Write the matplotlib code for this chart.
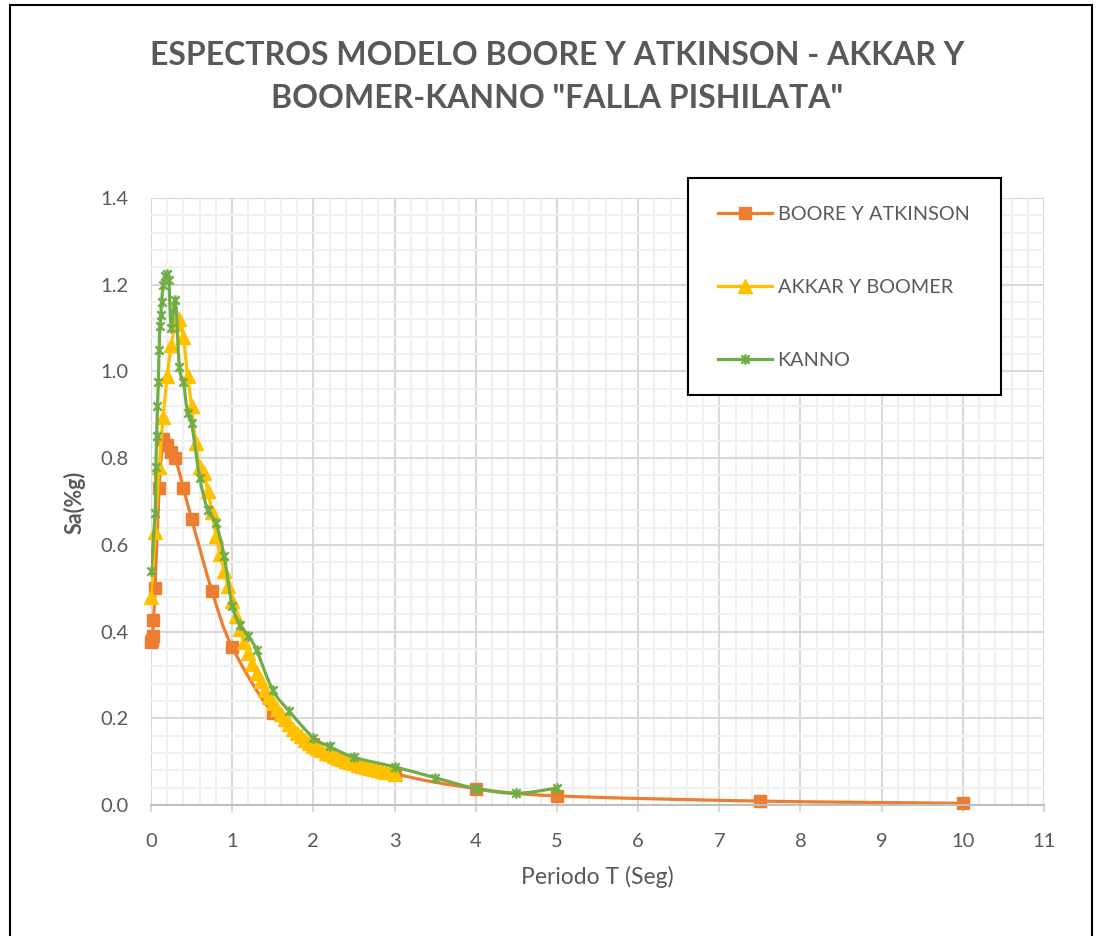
import numpy as np
import matplotlib
matplotlib.use("Agg")
import matplotlib.pyplot as plt
from matplotlib.path import Path
from matplotlib.patches import PathPatch, Rectangle
from matplotlib.lines import Line2D

# ---------------- data ----------------
ba_T = [0.0, 0.01, 0.02, 0.03, 0.05, 0.1, 0.15, 0.2, 0.25, 0.3, 0.4, 0.5, 0.75,
        1.0, 1.5, 2.0, 3.0, 4.0, 5.0, 7.5, 10.0]
ba_Sa = [0.376, 0.38, 0.39, 0.427, 0.50, 0.73, 0.845, 0.83, 0.815, 0.80, 0.73, 0.66,
         0.494, 0.364, 0.212, 0.14, 0.073, 0.038, 0.021, 0.009, 0.004]

ak_T = [0.0, 0.05, 0.1, 0.15, 0.2, 0.25, 0.3, 0.35, 0.4, 0.45, 0.5, 0.55, 0.6, 0.65,
        0.7, 0.75, 0.8, 0.85, 0.9, 0.95, 1.0, 1.05, 1.1, 1.15, 1.2, 1.25, 1.3, 1.35,
        1.4, 1.45, 1.5, 1.55, 1.6, 1.65, 1.7, 1.75, 1.8, 1.85, 1.9, 1.95, 2.0, 2.05,
        2.1, 2.15, 2.2, 2.25, 2.3, 2.35, 2.4, 2.45, 2.5, 2.55, 2.6, 2.65, 2.7, 2.75,
        2.8, 2.85, 2.9, 2.95, 3.0]
ak_Sa = [0.48, 0.63, 0.78, 0.895, 0.99, 1.06, 1.11, 1.12, 1.08, 0.99, 0.92, 0.835,
         0.78, 0.765, 0.725, 0.675, 0.62, 0.58, 0.54, 0.505, 0.47, 0.435, 0.405,
         0.375, 0.35, 0.325, 0.305, 0.285, 0.265, 0.25, 0.235, 0.222, 0.21, 0.198,
         0.186, 0.176, 0.167, 0.158, 0.15, 0.143, 0.137, 0.131, 0.126, 0.121, 0.117,
         0.113, 0.109, 0.105, 0.102, 0.099, 0.096, 0.093, 0.09, 0.088, 0.085, 0.083,
         0.081, 0.079, 0.077, 0.075, 0.072]

ka_T = [0.0, 0.05, 0.06, 0.07, 0.08, 0.09, 0.10, 0.11, 0.12, 0.13, 0.15, 0.17, 0.20,
        0.22, 0.25, 0.30, 0.35, 0.40, 0.45, 0.50, 0.60, 0.70, 0.80, 0.90, 1.00, 1.10,
        1.20, 1.30, 1.50, 1.70, 2.00, 2.20, 2.50, 3.00, 3.50, 4.00, 4.50, 5.00]
ka_Sa = [0.54, 0.673, 0.78, 0.85, 0.92, 0.975, 1.05, 1.105, 1.13, 1.16, 1.20, 1.22,
         1.225, 1.21, 1.10, 1.165, 1.01, 0.975, 0.905, 0.88, 0.755, 0.68, 0.65,
         0.575, 0.46, 0.415, 0.39, 0.357, 0.265, 0.217, 0.155, 0.135, 0.11, 0.088,
         0.063, 0.038, 0.027, 0.039]

labels = ["BOORE Y ATKINSON", "AKKAR Y BOOMER", "KANNO"]
colors = ["#ED7D31", "#FFC000", "#70AD47"]
x_ticks = list(range(0, 12))
y_ticks = [0.0, 0.2, 0.4, 0.6, 0.8, 1.0, 1.2, 1.4]

title = 'ESPECTROS MODELO BOORE Y ATKINSON - AKKAR Y\nBOOMER-KANNO "FALLA PISHILATA"'
xlabel = "Periodo T (Seg)"
ylabel = "Sa(%g)"

# ---------------- helpers ----------------
def smooth_path(xs, ys):
    xs = np.asarray(xs, float)
    ys = np.asarray(ys, float)
    P = np.column_stack([xs, ys])
    n = len(P)
    verts = [P[0]]
    codes = [Path.MOVETO]
    for i in range(n - 1):
        p0 = P[i - 1] if i > 0 else P[i]
        p1 = P[i]
        p2 = P[i + 1]
        p3 = P[i + 2] if i + 2 < n else P[i + 1]
        c1 = p1 + (p2 - p0) / 6.0
        c2 = p2 - (p3 - p1) / 6.0
        verts += [c1, c2, p2]
        codes += [Path.CURVE4] * 3
    return Path(verts, codes)

star = Path([(-1, -1), (1, 1), (-1, 1), (1, -1), (0, -1.25), (0, 1.25)],
            [Path.MOVETO, Path.LINETO, Path.MOVETO, Path.LINETO, Path.MOVETO, Path.LINETO])

TXT = "#595959"
FONT = "Lato"

fig = plt.figure(figsize=(11.01, 9.36), dpi=100)
W, H = 1101.0, 936.0
ax = fig.add_axes([151 / W, 1 - 805 / H, (1044 - 151) / W, (805 - 198) / H])

ax.set_xlim(0, 11)
ax.set_ylim(0, 1.4)
ax.set_xticks(x_ticks)
ax.set_yticks(y_ticks)
ax.set_xticks(np.arange(0, 11.01, 0.2), minor=True)
ax.set_yticks(np.arange(0, 1.401, 0.04), minor=True)
ax.set_yticklabels([f"{v:.1f}" for v in y_ticks])
ax.grid(which="minor", color="#f0f0f0", lw=1.5, zorder=0)
ax.grid(which="major", color="#d9d9d9", lw=1.5, zorder=0.5)
ax.set_axisbelow(True)
for s in ["top", "right", "left"]:
    ax.spines[s].set_visible(False)
ax.spines["bottom"].set_color("#bfbfbf")
ax.spines["bottom"].set_linewidth(1.5)
ax.tick_params(axis="x", which="major", length=5, width=1.5, color="#d9d9d9",
               pad=15, labelsize=14.5, labelcolor=TXT)
ax.tick_params(axis="y", which="major", length=0, pad=16, labelsize=14.5, labelcolor=TXT)
ax.tick_params(which="minor", length=0)
for lab in ax.get_xticklabels() + ax.get_yticklabels():
    lab.set_fontfamily(FONT)

series = [
    (ba_T, ba_Sa, "s", 8, colors[0]),
    (ak_T, ak_Sa, "^", 10, colors[1]),
    (ka_T, ka_Sa, star, 7.5, colors[2]),
]
handles = []
for k, (T, S, m, ms, c) in enumerate(series):
    patch = PathPatch(smooth_path(T, S), fill=False, edgecolor=c, lw=2.3,
                      zorder=2 + k, capstyle="round", joinstyle="round")
    ax.add_patch(patch)
    if m is star:
        ax.plot(T, S, ls="none", marker=m, ms=ms, mec=c, mew=1.7, zorder=2.5 + k,
                clip_on=False)
        h = Line2D([], [], color=c, lw=2.3, marker=m, ms=ms, mec=c, mew=1.7)
    else:
        ax.plot(T, S, ls="none", marker=m, ms=ms, mfc=c, mec=c, zorder=2.5 + k,
                clip_on=False)
        h = Line2D([], [], color=c, lw=2.3, marker=m, ms=ms, mfc=c, mec=c)
    handles.append(h)

ax.set_xlabel(xlabel, fontsize=16.5, color=TXT, family=FONT)
ax.set_ylabel(ylabel, fontsize=15.5, color=TXT, family=FONT, fontweight="bold")
ax.xaxis.set_label_coords((597 - 151) / (1044 - 151), -(866 - 805) / (805 - 198))
ax.yaxis.set_label_coords(-(151 - 86) / (1044 - 151), (805 - 502) / (805 - 198))

# legend
fig.patches.append(Rectangle((688 / W, 1 - 395 / H), (1001 - 688) / W, (395 - 178) / H,
                             transform=fig.transFigure, fill=True, facecolor="white",
                             edgecolor="black", lw=1.5, zorder=5))
leg = fig.legend(handles, labels, loc="upper left",
                 bbox_to_anchor=(718 / W, 1 - 206 / H), frameon=False,
                 handlelength=2.7, handletextpad=0.3, labelspacing=2.82,
                 borderpad=0, borderaxespad=0,
                 prop={"family": FONT, "size": 14.3})
leg.set_zorder(6)
for t in leg.get_texts():
    t.set_color(TXT)

fig.text(0.506, 1 - 77 / H, title, ha="center", va="center", fontsize=23,
         fontweight="bold", color=TXT, family=FONT, linespacing=1.55)

# outer border
fig.patches.append(Rectangle((10 / W, -0.01), (1092 - 10) / W, 1.01 - 5 / H,
                             transform=fig.transFigure, fill=False,
                             edgecolor="black", lw=1.5))

fig.savefig("out.png", dpi=100)
